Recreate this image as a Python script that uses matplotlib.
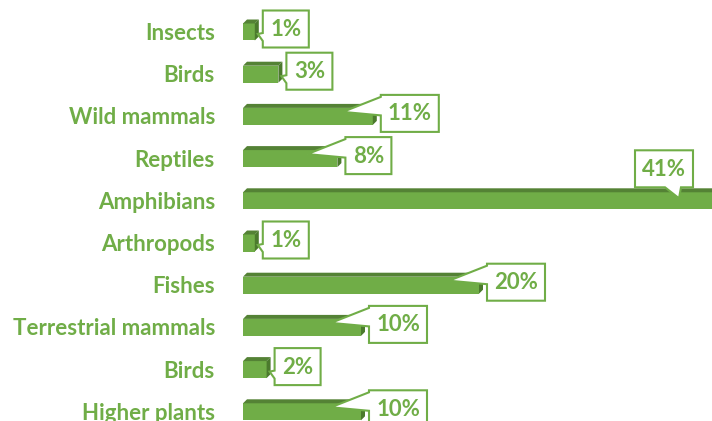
import matplotlib.pyplot as plt
from matplotlib.patches import Polygon, Rectangle

categories = ["Insects", "Birds", "Wild mammals", "Reptiles", "Amphibians",
              "Arthropods", "Fishes", "Terrestrial mammals", "Birds", "Higher plants"]
values = [1, 3, 11, 8, 41, 1, 20, 10, 2, 10]
labels = ["1%", "3%", "11%", "8%", "41%", "1%", "20%", "10%", "2%", "10%"]

GREEN = "#70AD47"
TOP = "#548235"
SIDE = "#4B7A2D"

W, H = 712, 421
X0 = 243          # pixel where 0% sits
PX_PER = 11.8     # pixels per percent
ROW0, ROW_STEP = 30, 42.2

fig = plt.figure(figsize=(W / 100, H / 100), dpi=100)
ax = fig.add_axes([0, 0, 1, 1])
ax.set_xlim(-X0 / PX_PER, (W - X0) / PX_PER)
ax.set_ylim((H - ROW0) / ROW_STEP, -ROW0 / ROW_STEP)
ax.axis("off")

px = 1 / PX_PER      # one pixel in x data units
py = 1 / ROW_STEP    # one pixel in y data units
xmax = ax.get_xlim()[1]

bar_h = 17 * py
dx, dy = 4 * px, 4 * py

for i, (cat, v, lab) in enumerate(zip(categories, values, labels)):
    top = i - bar_h / 2 + 2 * py
    bot = top + bar_h
    ax.add_patch(Rectangle((0, top), v, bar_h, facecolor=GREEN, edgecolor="none", zorder=2))
    ax.add_patch(Polygon([(0, top), (v, top), (v + dx, top - dy), (dx, top - dy)],
                         closed=True, facecolor=TOP, edgecolor="none", zorder=2))
    ax.add_patch(Polygon([(v, top), (v + dx, top - dy), (v + dx, bot - dy), (v, bot)],
                         closed=True, facecolor=SIDE, edgecolor="none", zorder=2))

    ax.text(-28 * px, i + 10 * py, cat, ha="right", va="baseline", color=GREEN,
            fontsize=16, fontweight="bold", family="Lato")

    bw = (46 if len(lab) == 2 else 58) * px
    bh = 37 * py
    end = v + dx
    if end + 4 * px + bw > xmax:
        # callout above the bar, pointing down
        x1 = xmax - 19 * px
        x0 = x1 - bw
        yb = top - dy - 1 * py
        yt = yb - bh
        tip = (x1 - 14 * px, top + 6 * py)
        pts = [(x0, yt), (x1, yt), (x1, yb), (x1 - 12 * px, yb), tip,
               (x1 - 28 * px, yb), (x0, yb)]
    else:
        x0 = end + 4 * px
        x1 = x0 + bw
        yc = i - 1 * py
        yt, yb = yc - bh / 2, yc + bh / 2
        if v < 5:
            tip = (end - 1 * px, i + 4 * py)
            b1, b2 = yc + 4 * py, yc + 12 * py
        else:
            tip = (v - 30 * px, top + 4 * py)
            b1, b2 = yt + 2 * py, yc + 2 * py
        pts = [(x0, yt), (x1, yt), (x1, yb), (x0, yb), (x0, b2), tip, (x0, b1)]
    ax.add_patch(Polygon(pts, closed=True, facecolor="white", edgecolor=GREEN,
                         linewidth=1.5, zorder=3, clip_on=False))
    ax.text((x0 + x1) / 2, (yt + yb) / 2 + 7 * py, lab, ha="center", va="baseline",
            color=GREEN, fontsize=16, fontweight="bold", family="Lato", zorder=4)

fig.savefig("out.png", dpi=100)
